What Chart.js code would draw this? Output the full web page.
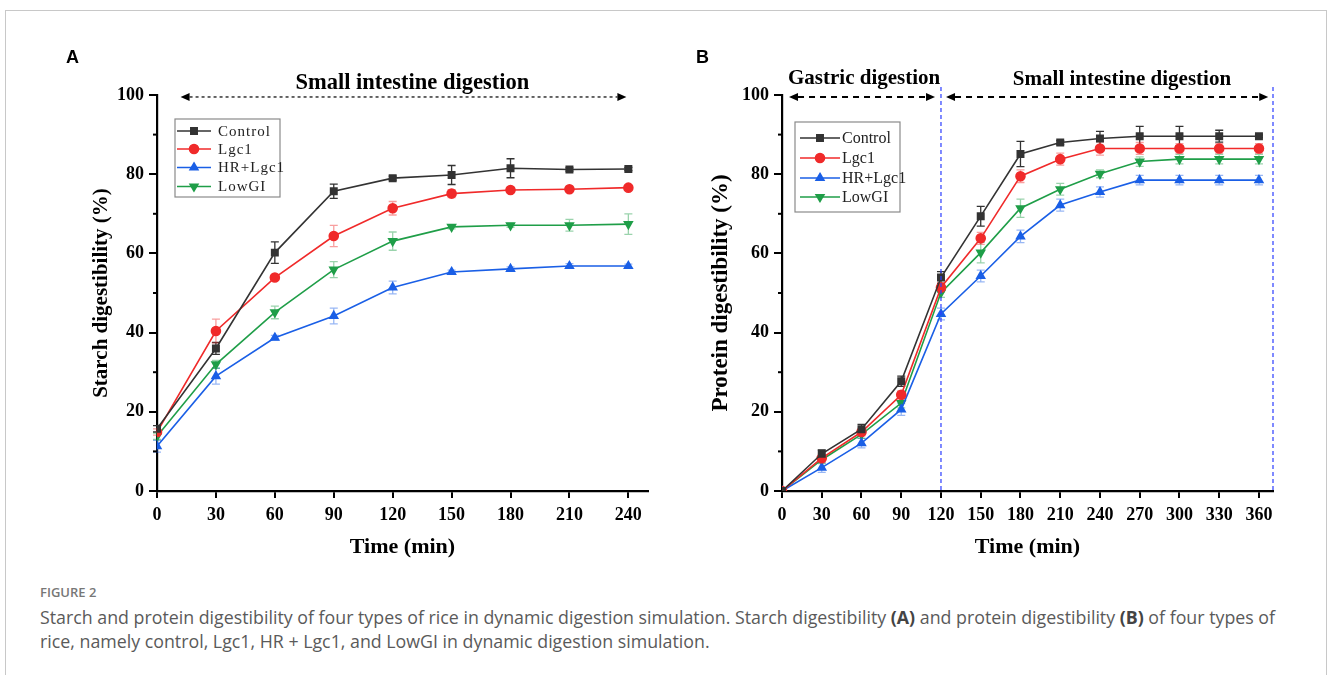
<!DOCTYPE html>
<html>
<head>
<meta charset="utf-8">
<script src="https://cdn.jsdelivr.net/npm/chart.js@4.4.0/dist/chart.umd.min.js"></script>
<style>
  body { margin: 0; background: #fff; width: 1330px; height: 675px; overflow: hidden; position: relative; font-family: "Open Sans", sans-serif; }
  .frame { position: absolute; left: 5px; top: 10px; width: 1320px; height: 720px; border: 1px solid #c8c8c8; }
  .wrap { position: absolute; top: 0; width: 665px; height: 580px; }
  .panel { position: absolute; top: 47px; font: bold 18px "Liberation Sans", Arial, sans-serif; color: #000; }
  .fig { position: absolute; left: 40px; top: 583px; font-size: 13px; font-weight: 600; color: #777; }
  .cap { position: absolute; left: 40px; top: 605px; font-size: 17.8px; line-height: 24px; color: #5a5a5a; white-space: nowrap; }
  .cap b { color: #444; }
</style>
</head>
<body>
<div class="frame"></div>
<div class="wrap" style="left:0"><canvas id="chartA"></canvas></div>
<div class="wrap" style="left:665px"><canvas id="chartB"></canvas></div>
<div class="panel" style="left:66px">A</div>
<div class="panel" style="left:696px">B</div>
<div class="fig">FIGURE 2</div>
<div class="cap">Starch and protein digestibility of four types of rice in dynamic digestion simulation. Starch digestibility <b>(A)</b> and protein digestibility <b>(B)</b> of four types of<br>rice, namely control, Lgc1, HR + Lgc1, and LowGI in dynamic digestion simulation.</div>
<script>
// series info
const seriesNames = ['Control', 'Lgc1', 'HR+Lgc1', 'LowGI'];
const seriesColors = ['#333333', '#f02a2a', '#1a5fe6', '#1f9e48'];
const errorColors = ['#333333', 'rgba(240,42,42,0.45)', 'rgba(26,95,230,0.45)', 'rgba(31,158,72,0.45)'];
const pointStyles = ['rect', 'circle', 'triangle', 'triangle'];
const pointRotations = [0, 0, 0, 180];

// A: starch digestibility (%)
const timeA = [0, 30, 60, 90, 120, 150, 180, 210, 240];
const starchControl = [15.7, 36, 60.2, 75.7, 79, 79.8, 81.5, 81.2, 81.3];
const starchControlErr = [0.8, 1.5, 2.7, 1.8, 0.5, 2.4, 2.4, 0.4, 0.4];
const starchLgc1 = [14.9, 40.4, 53.9, 64.4, 71.4, 75.1, 76, 76.2, 76.6];
const starchLgc1Err = [0.8, 3, 0.6, 2.7, 1.7, 1, 0.5, 0.5, 0.5];
const starchHR = [11.3, 29, 38.7, 44.2, 51.4, 55.3, 56.1, 56.8, 56.8];
const starchHRErr = [1.5, 2, 0.6, 2, 1.6, 0.5, 0.5, 0.6, 0.5];
const starchLowGI = [13.8, 32, 45.1, 55.9, 63.1, 66.7, 67.1, 67.1, 67.4];
const starchLowGIErr = [0.8, 1, 1.6, 2, 2.3, 0.5, 0.5, 1.5, 2.6];

// B: protein digestibility (%)
const timeB = [0, 30, 60, 90, 120, 150, 180, 210, 240, 270, 300, 330, 360];
const proteinControl = [0, 9.4, 15.6, 27.7, 53.9, 69.4, 85.1, 88, 89, 89.6, 89.6, 89.6, 89.6];
const proteinControlErr = [0, 1, 1.2, 1.3, 1.5, 2.5, 3.2, 0.5, 1.8, 2.5, 2.5, 1.5, 0.3];
const proteinLgc1 = [0, 8.3, 14.9, 24.3, 51.4, 63.8, 79.5, 83.8, 86.5, 86.5, 86.5, 86.5, 86.5];
const proteinLgc1Err = [0, 1, 1, 1, 1.2, 1.5, 1.6, 1.5, 1.7, 1.5, 1.2, 1.2, 1.2];
const proteinHR = [0, 5.9, 12.1, 20.6, 44.7, 54.3, 64.3, 72.2, 75.5, 78.5, 78.5, 78.5, 78.5];
const proteinHRErr = [0, 1.2, 1.2, 1.5, 1.5, 1.5, 1.6, 1.5, 1.3, 1.2, 1.2, 1.2, 1.2];
const proteinLowGI = [0, 7.9, 14.3, 22.2, 50.1, 60.2, 71.4, 76.2, 80.1, 83.2, 83.8, 83.8, 83.8];
const proteinLowGIErr = [0, 1, 1, 1.2, 1.2, 2.6, 2.3, 1.5, 1, 1.2, 1.2, 1.2, 1.2];

const yTicks = [0, 20, 40, 60, 80, 100];
const yMinorTicks = [10, 30, 50, 70, 90];

const serif = '"Liberation Serif", "Times New Roman", serif';

function arrowLine(ctx, x1, x2, y, dash, width, head) {
  ctx.save();
  ctx.strokeStyle = '#000';
  ctx.fillStyle = '#000';
  ctx.lineWidth = width;
  ctx.setLineDash(dash);
  ctx.beginPath();
  ctx.moveTo(x1 + head, y);
  ctx.lineTo(x2 - head, y);
  ctx.stroke();
  ctx.setLineDash([]);
  ctx.beginPath();
  ctx.moveTo(x1, y); ctx.lineTo(x1 + head, y - head / 2.2); ctx.lineTo(x1 + head, y + head / 2.2); ctx.closePath();
  ctx.moveTo(x2, y); ctx.lineTo(x2 - head, y - head / 2.2); ctx.lineTo(x2 - head, y + head / 2.2); ctx.closePath();
  ctx.fill();
  ctx.restore();
}

// error bars, minor ticks, legend box and phase annotations
const decorPlugin = {
  id: 'decor',
  beforeDatasetsDraw(chart, args, opts) {
    const {ctx, scales: {x, y}} = chart;
    ctx.save();
    opts.errors.forEach((errs, i) => {
      const ds = chart.data.datasets[i];
      ctx.strokeStyle = errorColors[i];
      ctx.lineWidth = 1.3;
      ds.data.forEach((p, j) => {
        const e = errs[j];
        if (!e) return;
        const px = x.getPixelForValue(p.x);
        const top = y.getPixelForValue(p.y + e);
        const bot = y.getPixelForValue(p.y - e);
        ctx.beginPath();
        ctx.moveTo(px, top); ctx.lineTo(px, bot);
        ctx.moveTo(px - 4, top); ctx.lineTo(px + 4, top);
        ctx.moveTo(px - 4, bot); ctx.lineTo(px + 4, bot);
        ctx.stroke();
      });
    });
    ctx.restore();
  },
  afterDraw(chart, args, opts) {
    const {ctx, chartArea: area, scales: {x, y}} = chart;
    ctx.save();
    // minor y ticks
    ctx.strokeStyle = '#000';
    ctx.lineWidth = 2;
    yMinorTicks.forEach(v => {
      const py = y.getPixelForValue(v);
      ctx.beginPath();
      ctx.moveTo(area.left - 4, py); ctx.lineTo(area.left, py);
      ctx.stroke();
    });

    // blue phase dividers
    (opts.dividers || []).forEach(v => {
      const px = x.getPixelForValue(v);
      ctx.save();
      ctx.strokeStyle = '#2b3cff';
      ctx.lineWidth = 1.2;
      ctx.setLineDash([4, 3]);
      ctx.beginPath();
      ctx.moveTo(px, area.top - 8); ctx.lineTo(px, area.bottom);
      ctx.stroke();
      ctx.restore();
    });

    // phase arrows and labels
    ctx.font = 'bold ' + opts.phaseSize + 'px ' + serif;
    ctx.fillStyle = '#000';
    ctx.textAlign = 'center';
    ctx.textBaseline = 'middle';
    opts.phases.forEach(ph => {
      const py = y.getPixelForValue(ph.at);
      arrowLine(ctx, x.getPixelForValue(ph.from), x.getPixelForValue(ph.to), py, opts.arrowDash, opts.arrowWidth, 9);
      ctx.fillText(ph.label, x.getPixelForValue(ph.center), area.top + ph.dy);
    });

    // legend box
    const lg = opts.legend;
    ctx.strokeStyle = '#8a8a8a';
    ctx.lineWidth = 1.2;
    ctx.strokeRect(lg.left, lg.top, lg.width, lg.height);
    ctx.font = lg.font;
    ctx.textAlign = 'left';
    ctx.textBaseline = 'middle';
    if (lg.spacing) ctx.letterSpacing = lg.spacing;
    seriesNames.forEach((name, i) => {
      const ry = lg.rows[i];
      ctx.strokeStyle = seriesColors[i];
      ctx.lineWidth = 1.6;
      ctx.beginPath();
      ctx.moveTo(lg.lineX1, ry); ctx.lineTo(lg.lineX2, ry);
      ctx.stroke();
      ctx.fillStyle = seriesColors[i];
      Chart.helpers.drawPoint(ctx, {pointStyle: pointStyles[i], radius: 4.5, rotation: pointRotations[i], borderWidth: 1}, (lg.lineX1 + lg.lineX2) / 2, ry);
      ctx.fillStyle = '#222';
      ctx.fillText(name, lg.textX, ry + 1);
    });
    ctx.restore();
  }
};

function makeDatasets(times, values) {
  return values.map((vals, i) => ({
    label: seriesNames[i],
    data: vals.map((v, j) => ({x: times[j], y: v})),
    borderColor: seriesColors[i],
    backgroundColor: seriesColors[i],
    pointBackgroundColor: seriesColors[i],
    pointBorderColor: seriesColors[i],
    borderWidth: 1.6,
    pointStyle: pointStyles[i],
    rotation: pointRotations[i],
    pointRadius: 4.5,
    pointHoverRadius: 4.5,
    tension: 0
  }));
}

function makeChart(id, cfg) {
  return new Chart(document.getElementById(id), {
    type: 'line',
    data: {datasets: makeDatasets(cfg.times, cfg.values)},
    plugins: [decorPlugin],
    options: {
      responsive: false,
      animation: false,
      devicePixelRatio: 1,
      layout: {padding: cfg.padding},
      plugins: {
        legend: {display: false},
        tooltip: {enabled: false},
        decor: cfg.decor
      },
      scales: {
        x: {
          type: 'linear',
          min: 0,
          max: cfg.xMax,
          border: {display: true, color: '#000', width: 2.2},
          grid: {drawOnChartArea: false, drawTicks: true, tickLength: 7, color: '#000', lineWidth: 2},
          ticks: {stepSize: 30, includeBounds: false, color: '#000', padding: 7, maxRotation: 0,
                  font: {family: serif, weight: 'bold', size: 18}},
          title: {display: true, text: 'Time (min)', color: '#000', padding: {top: 0, bottom: 19},
                  font: {family: serif, weight: 'bold', size: 22}},
          afterFit(s) { s.height = 89; }
        },
        y: {
          min: 0,
          max: 100,
          border: {display: true, color: '#000', width: 2.2},
          grid: {drawOnChartArea: false, drawTicks: true, tickLength: 8, color: '#000', lineWidth: 2},
          afterBuildTicks(s) { s.ticks = yTicks.map(v => ({value: v})); },
          ticks: {color: '#000', padding: 5, font: {family: serif, weight: 'bold', size: 18}},
          title: {display: true, text: cfg.yTitle, color: '#000', padding: {top: 3, bottom: 0},
                  font: {family: serif, weight: 'bold', size: cfg.yTitleSize}},
          afterFit(s) { s.width = cfg.yWidth; }
        }
      }
    }
  });
}

const cA = document.getElementById('chartA'); cA.width = 665; cA.height = 580;
const cB = document.getElementById('chartB'); cB.width = 665; cB.height = 580;

makeChart('chartA', {
  times: timeA,
  values: [starchControl, starchLgc1, starchHR, starchLowGI],
  xMax: 250,
  yTitle: 'Starch digestibility (%)',
  yTitleSize: 21,
  yWidth: 71,
  padding: {left: 86, top: 95, right: 17, bottom: 0},
  decor: {
    errors: [starchControlErr, starchLgc1Err, starchHRErr, starchLowGIErr],
    arrowDash: [3, 3],
    arrowWidth: 1.2,
    phaseSize: 22.5,
    phases: [{label: 'Small intestine digestion', from: 12, to: 239, at: 99.5, center: 130, dy: -12}],
    legend: {left: 175, top: 119, width: 105, height: 78, rows: [131, 149, 167.5, 186.5],
             lineX1: 177, lineX2: 211, textX: 218, font: '15px ' + serif, spacing: '1px'}
  }
});

makeChart('chartB', {
  times: timeB,
  values: [proteinControl, proteinLgc1, proteinHR, proteinLowGI],
  xMax: 370.6,
  yTitle: 'Protein digestibility (%)',
  yTitleSize: 23,
  yWidth: 78,
  padding: {left: 39, top: 95, right: 57, bottom: 0},
  decor: {
    errors: [proteinControlErr, proteinLgc1Err, proteinHRErr, proteinLowGIErr],
    dividers: [120, 370.6],
    arrowDash: [6, 5],
    arrowWidth: 2,
    phaseSize: 21,
    phases: [
      {label: 'Gastric digestion', from: 5.3, to: 115.5, at: 99.5, center: 62, dy: -16},
      {label: 'Small intestine digestion', from: 123.8, to: 367, at: 99.5, center: 256.6, dy: -15}
    ],
    legend: {left: 130, top: 122, width: 105, height: 90, rows: [138, 158, 178, 197],
             lineX1: 135, lineX2: 175, textX: 177, font: '16px ' + serif}
  }
});
</script>
</body>
</html>
